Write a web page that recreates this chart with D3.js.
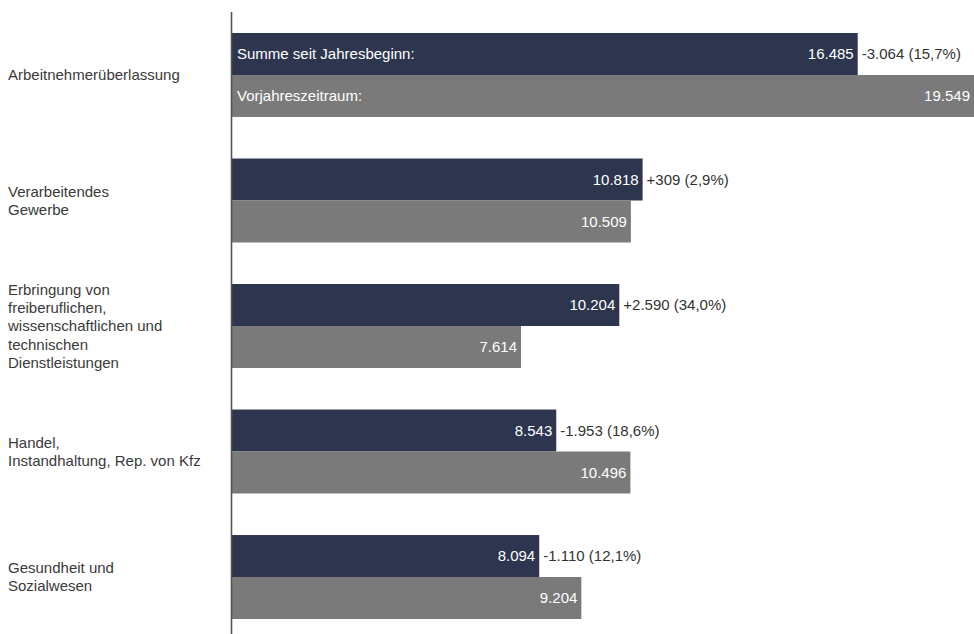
<!DOCTYPE html>
<html>
<head>
<meta charset="utf-8">
<script src="https://cdn.jsdelivr.net/npm/d3@7"></script>
<style>
  body { margin: 0; background: #fff; }
  svg text { font-family: "Liberation Sans", Arial, sans-serif; font-size: 15px; }
</style>
</head>
<body>
<div class="graphic"></div>
<script>
var categories = [
  ["Arbeitnehmerüberlassung"],
  ["Verarbeitendes", "Gewerbe"],
  ["Erbringung von", "freiberuflichen,", "wissenschaftlichen und", "technischen", "Dienstleistungen"],
  ["Handel,", "Instandhaltung, Rep. von Kfz"],
  ["Gesundheit und", "Sozialwesen"]
];
var current = [16485, 10818, 10204, 8543, 8094];
var previous = [19549, 10509, 7614, 10496, 9204];
var deltaLabels = ["-3.064 (15,7%)", "+309 (2,9%)", "+2.590 (34,0%)", "-1.953 (18,6%)", "-1.110 (12,1%)"];
var seriesNames = ["Summe seit Jahresbeginn:", "Vorjahreszeitraum:"];
var seriesColors = ["#2e364f", "#7a7a7a"];

var width = 974, height = 634;
var fmt = d3.formatLocale({ decimal: ",", thousands: ".", grouping: [3], currency: ["", "€"] }).format(",d");

var svg = d3.select(".graphic").append("svg")
  .attr("width", width).attr("height", height);

var x = d3.scaleLinear().domain([0, d3.max(previous)]).range([232, 974]);

var y = d3.scaleBand()
  .domain(d3.range(categories.length))
  .range([33, 619])
  .paddingInner(0.331)
  .paddingOuter(0);

var ySub = d3.scaleBand().domain([0, 1]).range([0, y.bandwidth()]);

var rows = categories.map(function(c, i) {
  return { i: i, label: c, values: [current[i], previous[i]], delta: deltaLabels[i] };
});

var groups = svg.selectAll("g.group")
  .data(rows)
  .enter().append("g")
  .attr("class", "group")
  .attr("transform", function(d) { return "translate(0," + y(d.i) + ")"; });

// bars
groups.selectAll("rect")
  .data(function(d) { return d.values.map(function(v, k) { return { v: v, k: k }; }); })
  .enter().append("rect")
  .attr("x", x(0))
  .attr("y", function(d) { return ySub(d.k); })
  .attr("width", function(d) { return x(d.v) - x(0); })
  .attr("height", ySub.bandwidth())
  .attr("fill", function(d) { return seriesColors[d.k]; });

// value labels inside bars
groups.selectAll("text.val")
  .data(function(d) { return d.values.map(function(v, k) { return { v: v, k: k }; }); })
  .enter().append("text")
  .attr("class", "val")
  .attr("x", function(d) { return x(d.v) - 4; })
  .attr("y", function(d) { return ySub(d.k) + ySub.bandwidth() / 2; })
  .attr("dy", "0.35em")
  .attr("text-anchor", "end")
  .attr("fill", "#fff")
  .text(function(d) { return fmt(d.v); });

// delta labels
groups.append("text")
  .attr("x", function(d) { return x(d.values[0]) + 4; })
  .attr("y", ySub(0) + ySub.bandwidth() / 2)
  .attr("dy", "0.35em")
  .attr("fill", "#333")
  .text(function(d) { return d.delta; });

// series names in first group
svg.selectAll("text.series")
  .data(seriesNames)
  .enter().append("text")
  .attr("class", "series")
  .attr("x", x(0) + 5)
  .attr("y", function(d, k) { return y(0) + ySub(k) + ySub.bandwidth() / 2; })
  .attr("dy", "0.35em")
  .attr("fill", "#fff")
  .text(function(d) { return d; });

// category labels
var lineH = 18.3;
groups.append("text")
  .attr("fill", "#3a3a3a")
  .each(function(d) {
    var t = d3.select(this);
    var n = d.label.length;
    d.label.forEach(function(line, j) {
      t.append("tspan")
        .attr("x", 8)
        .attr("y", y.bandwidth() / 2 + (j - (n - 1) / 2) * lineH)
        .attr("dy", "0.35em")
        .text(line);
    });
  });

// axis line
svg.append("line")
  .attr("x1", x(0) - 0.5).attr("x2", x(0) - 0.5)
  .attr("y1", 12).attr("y2", height)
  .attr("stroke", "#555")
  .attr("stroke-width", 1.6);
</script>
</body>
</html>
